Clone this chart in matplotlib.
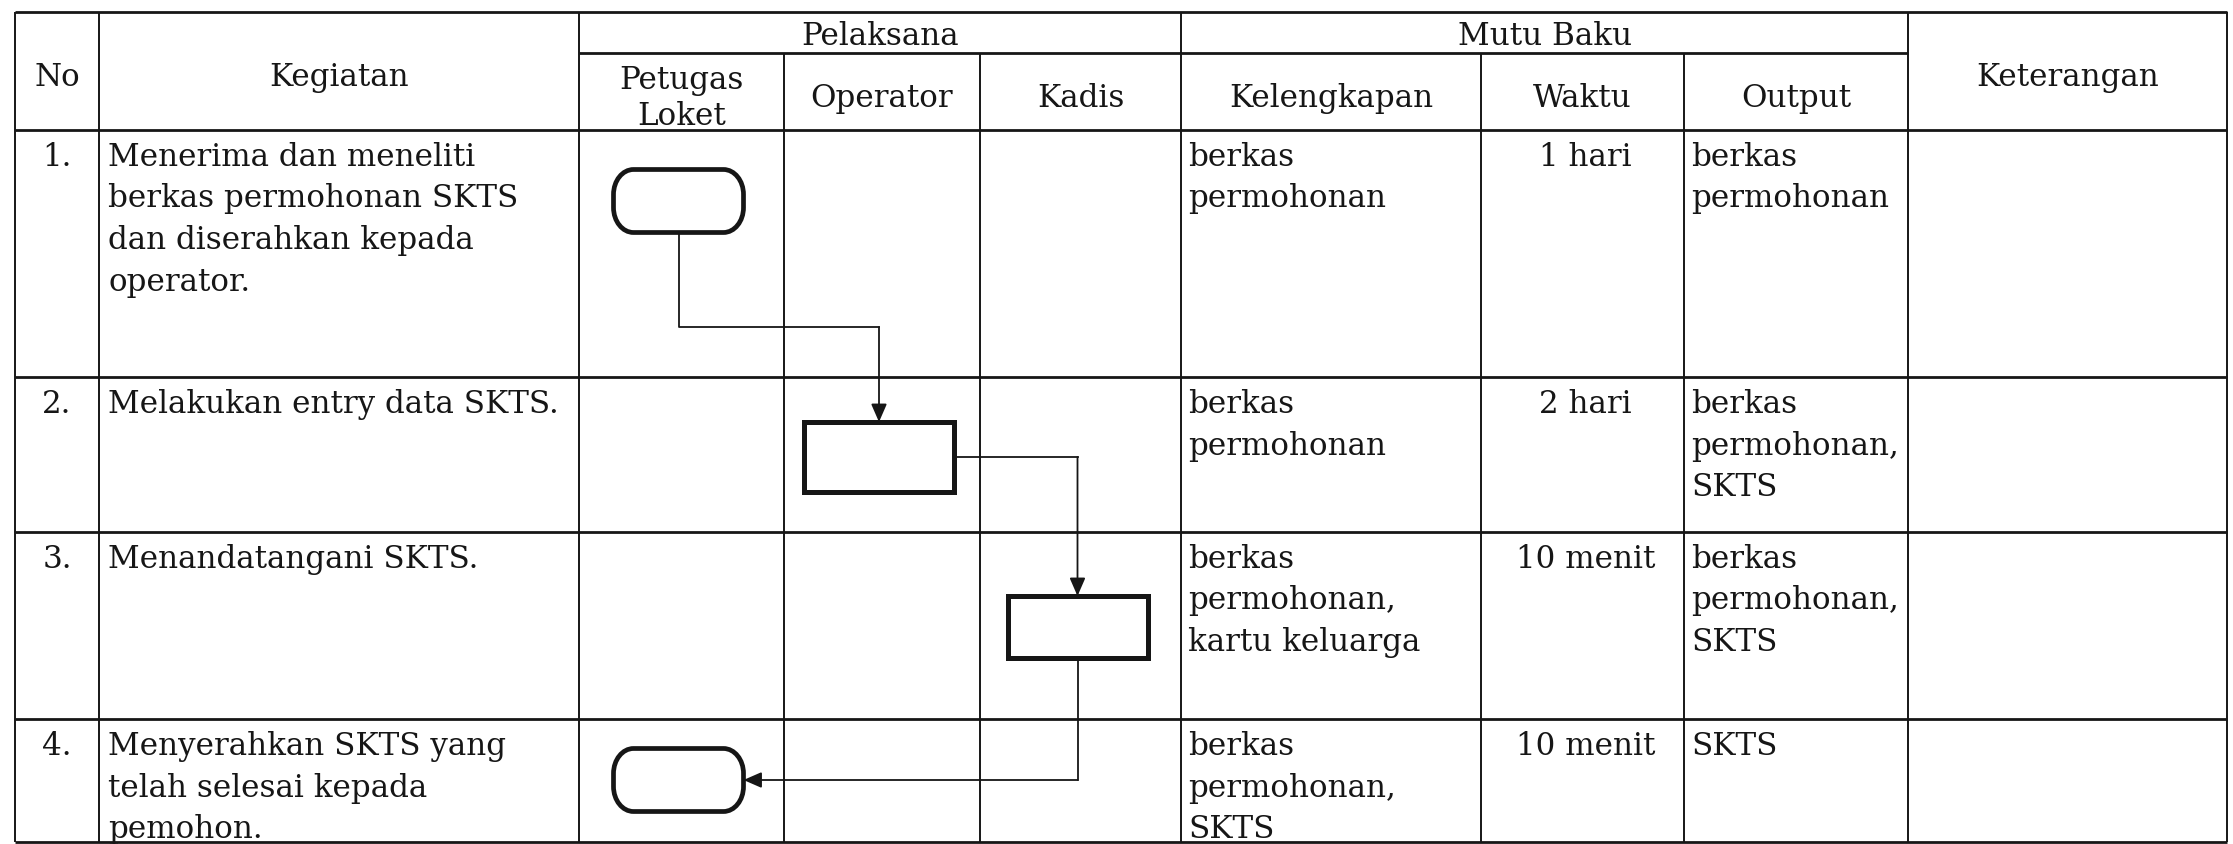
import matplotlib
matplotlib.use("Agg")
import matplotlib.pyplot as plt
from matplotlib.patches import PathPatch, Rectangle
from matplotlib.path import Path

# ---------------------------------------------------------------------------
# table content (SOP: penerbitan SKTS)
# ---------------------------------------------------------------------------
nomor = ["1.", "2.", "3.", "4."]
kegiatan = [
    "Menerima dan meneliti\nberkas permohonan SKTS\ndan diserahkan kepada\noperator.",
    "Melakukan entry data SKTS.",
    "Menandatangani SKTS.",
    "Menyerahkan SKTS yang\ntelah selesai kepada\npemohon.",
]
kelengkapan = ["berkas\npermohonan", "berkas\npermohonan",
               "berkas\npermohonan,\nkartu keluarga", "berkas\npermohonan,\nSKTS"]
waktu = ["1 hari", "2 hari", "10 menit", "10 menit"]
output = ["berkas\npermohonan", "berkas\npermohonan,\nSKTS",
          "berkas\npermohonan,\nSKTS", "SKTS"]
keterangan = ["", "", "", ""]

pelaksana = ["Petugas\nLoket", "Operator", "Kadis"]
mutu_baku = ["Kelengkapan", "Waktu", "Output"]

# which pelaksana handles each step, and the flowchart symbol used
aktor = [0, 1, 2, 0]
simbol = ["terminator", "proses", "proses", "terminator"]

# ---------------------------------------------------------------------------
# layout (pixels, y grows downwards)
# ---------------------------------------------------------------------------
W, H = 2233, 844
COL_X = [15, 99, 579, 784, 980, 1181, 1481, 1684, 1908, 2227]
Y_TOP, Y_SUB, Y_HEAD = 12, 53, 130
ROW_Y = [130, 377, 532, 719, 842]
SHAPE_CY = [201, 457, 627, 780]
SHAPE_WH = [(130, 63), (150, 70), (140, 62), (130, 63)]
BEND_Y = 327          # elbow of the first connector
LS = 41.5             # line spacing of body text
BASE0 = 36            # first baseline below row top
INK = "#161616"
FONT = "DejaVu Serif"
FS = 22.3

fig = plt.figure(figsize=(W / 100, H / 100), dpi=100)
ax = fig.add_axes([0, 0, 1, 1])
ax.set_xlim(0, W)
ax.set_ylim(H, 0)
ax.axis("off")


def txt(x, y, s, ha="left", ls=LS):
    for i, line in enumerate(s.split("\n")):
        ax.text(x, y + i * ls, line, ha=ha, va="baseline", fontsize=FS,
                family=FONT, color=INK)


def terminator(x0, y0, w, h, rx=20, ry=25):
    """Flat top/bottom, elliptical rounded ends (as drawn in Word)."""
    k = 0.5523
    x1, y1 = x0 + w, y0 + h
    v = [(x0 + rx, y0), (x1 - rx, y0),
         (x1 - rx + k * rx, y0), (x1, y0 + ry - k * ry), (x1, y0 + ry),
         (x1, y1 - ry),
         (x1, y1 - ry + k * ry), (x1 - rx + k * rx, y1), (x1 - rx, y1),
         (x0 + rx, y1),
         (x0 + rx - k * rx, y1), (x0, y1 - ry + k * ry), (x0, y1 - ry),
         (x0, y0 + ry),
         (x0, y0 + ry - k * ry), (x0 + rx - k * rx, y0), (x0 + rx, y0),
         (x0 + rx, y0)]
    c = ([Path.MOVETO, Path.LINETO] + [Path.CURVE4] * 3 + [Path.LINETO]
         + [Path.CURVE4] * 3 + [Path.LINETO] + [Path.CURVE4] * 3
         + [Path.LINETO] + [Path.CURVE4] * 3 + [Path.CLOSEPOLY])
    return PathPatch(Path(v, c), fc="white", ec=INK, lw=3.4, zorder=3,
                     joinstyle="round")


# ---- grid lines ----
hl = dict(color=INK, lw=2.0, solid_capstyle="butt")
vl = dict(color=INK, lw=1.4, solid_capstyle="butt")
ax.plot([COL_X[0], COL_X[-1]], [Y_TOP, Y_TOP], **hl)
ax.plot([COL_X[2], COL_X[8]], [Y_SUB, Y_SUB], **hl)
for y in ROW_Y:
    ax.plot([COL_X[0], COL_X[-1]], [y, y], **hl)
for i, x in enumerate(COL_X):
    y0 = Y_SUB if i in (3, 4, 6, 7) else Y_TOP
    ax.plot([x, x], [y0, ROW_Y[-1]], **vl)

# ---- header ----
cx = [(COL_X[i] + COL_X[i + 1]) / 2 for i in range(len(COL_X) - 1)]
txt(cx[0], 86, "No", ha="center")
txt(cx[1], 86, "Kegiatan", ha="center")
txt((COL_X[2] + COL_X[5]) / 2, 45, "Pelaksana", ha="center")
txt((COL_X[5] + COL_X[8]) / 2, 45, "Mutu Baku", ha="center")
txt(cx[8], 86, "Keterangan", ha="center")
for j, name in enumerate(pelaksana):
    n = name.count("\n")
    txt(cx[2 + j], 107 - n * 18, name, ha="center", ls=36)
for j, name in enumerate(mutu_baku):
    txt(cx[5 + j], 107, name, ha="center")

# ---- body text ----
for r in range(len(nomor)):
    yb = ROW_Y[r] + BASE0
    txt(cx[0], yb, nomor[r], ha="center")
    txt(COL_X[1] + 9, yb, kegiatan[r])
    txt(COL_X[5] + 7, yb, kelengkapan[r])
    txt(cx[6] + 3, yb, waktu[r], ha="center")
    txt(COL_X[7] + 7, yb, output[r])
    txt(COL_X[8] + 7, yb, keterangan[r])

# ---- flowchart symbols ----
boxes = []
for r in range(len(aktor)):
    x_c = cx[2 + aktor[r]] - 3
    w, h = SHAPE_WH[r]
    x0, y0 = x_c - w / 2, SHAPE_CY[r] - h / 2
    if simbol[r] == "terminator":
        p = terminator(x0, y0, w, h)
    else:
        p = Rectangle((x0, y0), w, h, fc="white", ec=INK, lw=3.6, zorder=3)
    ax.add_patch(p)
    boxes.append((x_c, SHAPE_CY[r], w, h))

cl = dict(color=INK, lw=1.3, zorder=2)
arr = dict(arrowstyle="-|>,head_length=0.55,head_width=0.24", color=INK,
           lw=1.3, shrinkA=0, shrinkB=0, mutation_scale=20)


def arrow(p0, p1):
    ax.annotate("", xy=p1, xytext=p0, arrowprops=arr, zorder=4)


# 1 -> 2 : down, right, down
(xa, ya, wa, ha_), (xb, yb_, wb, hb) = boxes[0], boxes[1]
ax.plot([xa, xa, xb], [ya + ha_ / 2, BEND_Y, BEND_Y], **cl)
arrow((xb, BEND_Y), (xb, yb_ - hb / 2))
# 2 -> 3 : right, down
(xa, ya, wa, ha_), (xb, yb_, wb, hb) = boxes[1], boxes[2]
ax.plot([xa + wa / 2, xb], [ya, ya], **cl)
arrow((xb, ya), (xb, yb_ - hb / 2))
# 3 -> 4 : down, left
(xa, ya, wa, ha_), (xb, yb_, wb, hb) = boxes[2], boxes[3]
ax.plot([xa, xa], [ya + ha_ / 2, yb_], **cl)
arrow((xa, yb_), (xb + wb / 2, yb_))

fig.savefig("out.png", dpi=100, facecolor="white")
